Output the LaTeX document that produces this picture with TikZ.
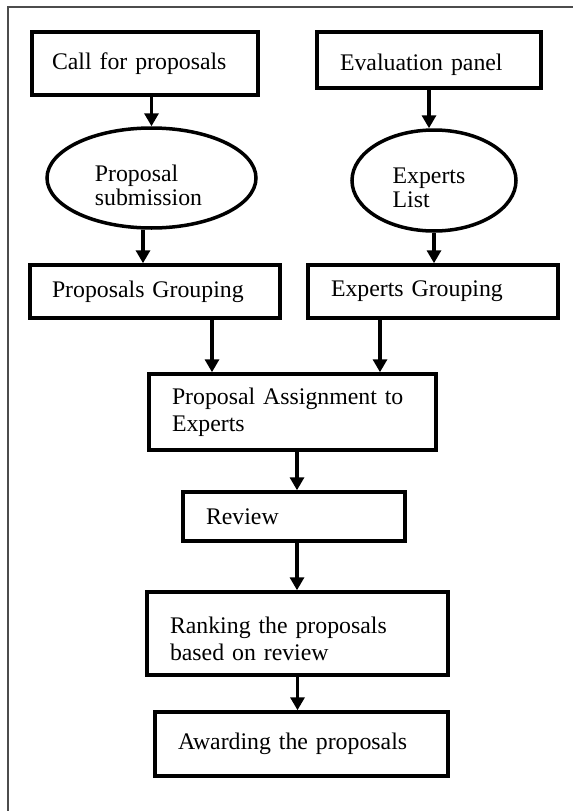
\documentclass[tikz,border=0pt]{standalone}
\usepackage{fontspec}
\setmainfont{Liberation Serif}
\usetikzlibrary{arrows.meta,shapes.geometric}
\newcommand{\twolines}[3]{\raisebox{#1}[\height][\depth]{\begin{tabular}{@{}l@{}}#2\\#3\end{tabular}}}
\newcommand{\lowered}[2]{\raisebox{#1}[\height][\depth]{#2}}
\tikzset{
  boxnode/.style={draw, line width=3.5pt, rectangle, align=left, inner ysep=0pt,
    font=\fontsize{23.8}{27}\selectfont},
  ovalnode/.style={draw, line width=3.5pt, ellipse, align=left, inner sep=0pt,
    font=\fontsize{23.8}{24}\selectfont},
  arr/.style={line width=3.8pt, -{Triangle[width=14pt,length=13pt]}},
  framestyle/.style={draw=black!70, line width=1.5pt}
}
\begin{document}
\begin{tikzpicture}[x=1pt,y=-1pt]
\useasboundingbox (0,0) rectangle (573,811);
\fill[white] (0,0) rectangle (573,811);
\draw[framestyle] (8,811) -- (8,7) -- (573,7);

\node[boxnode, minimum height=63pt, text width=186pt, inner xsep=20pt] (call) at (145,63.5) {Call for proposals};
\node[boxnode, minimum height=56pt, text width=178pt, inner xsep=23pt] (eval) at (429,60) {\lowered{-5pt}{Evaluation panel}};

\node[ovalnode, minimum width=209pt, minimum height=100pt] (ell1) at (151.5,178) {\hspace*{-6pt}\twolines{-11pt}{Proposal}{submission}};
\node[ovalnode, minimum width=164pt, minimum height=101pt] (ell2) at (434,180.5) {\hspace*{-10pt}\twolines{-10pt}{Experts}{List}};

\node[boxnode, minimum height=53pt, text width=206pt, inner xsep=22pt] (pg) at (155,291.5) {Proposals Grouping};
\node[boxnode, minimum height=53pt, text width=204pt, inner xsep=23pt] (eg) at (433,291.5) {Experts Grouping};

\node[boxnode, minimum height=76pt, text width=241pt, inner xsep=23pt] (assign) at (292.5,412) {Proposal Assignment to\\Experts};
\node[boxnode, minimum height=49pt, text width=176pt, inner xsep=23pt] (review) at (294,516.5) {Review};
\node[boxnode, minimum height=83pt, text width=255pt, inner xsep=23pt] (rank) at (297.5,633.5) {\twolines{-8pt}{Ranking the proposals}{based on review}};
\node[boxnode, minimum height=64pt, text width=247pt, inner xsep=23pt] (award) at (301.5,744) {Awarding the proposals};

\draw[arr] (ell1.north |- call.south) -- (ell1.north);
\draw[arr] (eval.south) -- (eval.south |- ell2.north);
\draw[arr] ([xshift=-8.5pt]ell1.south) -- ([xshift=-8.5pt]ell1.south |- pg.north);
\draw[arr] (ell2.south) -- (ell2.south |- eg.north);
\draw[arr] ([xshift=57pt]pg.south) -- ([xshift=57pt]pg.south |- assign.north);
\draw[arr] ([xshift=-53pt]eg.south) -- ([xshift=-53pt]eg.south |- assign.north);
\draw[arr] ([xshift=3pt]review.north |- assign.south) -- ([xshift=3pt]review.north);
\draw[arr] ([xshift=3pt]review.south) -- ([xshift=3pt]review.south |- rank.north);
\draw[arr] (rank.south) -- (rank.south |- award.north);
\end{tikzpicture}
\end{document}
